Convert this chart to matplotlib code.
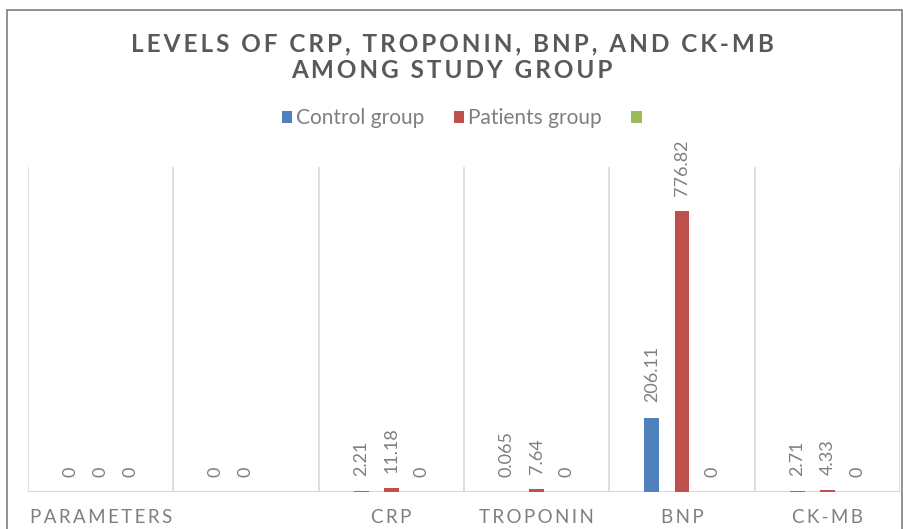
import matplotlib
matplotlib.use("Agg")
import matplotlib.pyplot as plt
import numpy as np
from matplotlib.patches import Rectangle, Patch

plt.rcParams["font.family"] = ["Lato", "DejaVu Sans"]

categories = ["PARAMETERS", "", "CRP", "TROPONIN", "BNP", "CK-MB"]
control = [0, 0, 2.21, 0.065, 206.11, 2.71]
patients = [0, 0, 11.18, 7.64, 776.82, 4.33]
third = [0, None, 0, 0, 0, 0]

series = [
    ("Control group", control, "#4f81bd"),
    ("Patients group", patients, "#c0504d"),
    ("", third, "#9bbb59"),
]

TEXT = "#595959"
LIGHT = "#7f7f7f"
GRID = "#d9d9d9"


def spaced(s, gap="\u2009"):
    return gap.join(s)


fig = plt.figure(figsize=(9.04, 5.29), dpi=100)
ax = fig.add_axes([28 / 904, 37 / 529, 872 / 904, 325 / 529])

x = np.arange(len(categories))
offset = 0.207
width = 0.103

for i, (name, vals, color) in enumerate(series):
    xs = x + (i - 1) * offset
    for xi, v in zip(xs, vals):
        if v is None:
            continue
        ax.bar(xi, v, width=width, color=color, zorder=3)
        ax.annotate(f"{v:g}", (xi, v), xytext=(0, 11), textcoords="offset points",
                    rotation=90, ha="center", va="bottom", fontsize=13, color=LIGHT)

ax.set_xlim(-0.5, len(categories) - 0.5)
ax.set_ylim(0, 900)
for b in np.arange(-0.5, len(categories) + 0.5, 1):
    ax.axvline(b, color=GRID, linewidth=1.2, zorder=1)
ax.axhline(0, color=GRID, linewidth=1.5, zorder=2)

for s in ax.spines.values():
    s.set_visible(False)
ax.set_yticks([])
ax.set_xticks(x)
ax.set_xticklabels([spaced(c) for c in categories], fontsize=13.5, color=LIGHT)
ax.tick_params(axis="x", length=0, pad=12)

fig.text(0.5, 1 - 44 / 529, spaced("LEVELS OF CRP, TROPONIN, BNP, AND CK-MB"),
         ha="center", va="center", fontsize=17.5, fontweight="bold", color=TEXT)
fig.text(0.5, 1 - 71 / 529, spaced("AMONG STUDY GROUP"),
         ha="center", va="center", fontsize=17.5, fontweight="bold", color=TEXT)

handles = [Patch(facecolor=c, edgecolor="none", label=n) for n, _, c in series]
fig.legend(handles=handles, loc="center", bbox_to_anchor=(0.513, 1 - 118 / 529),
           ncol=3, frameon=False, fontsize=15, labelcolor=LIGHT,
           handlelength=0.5, handleheight=0.5, handletextpad=0.2, columnspacing=1.4)

fig.patches.append(Rectangle((7 / 904, -0.05), 895 / 904, 1.05 - 10 / 529,
                             transform=fig.transFigure, fill=False,
                             edgecolor="#7f7f7f", linewidth=1.2))

fig.savefig("out.png", dpi=100)
